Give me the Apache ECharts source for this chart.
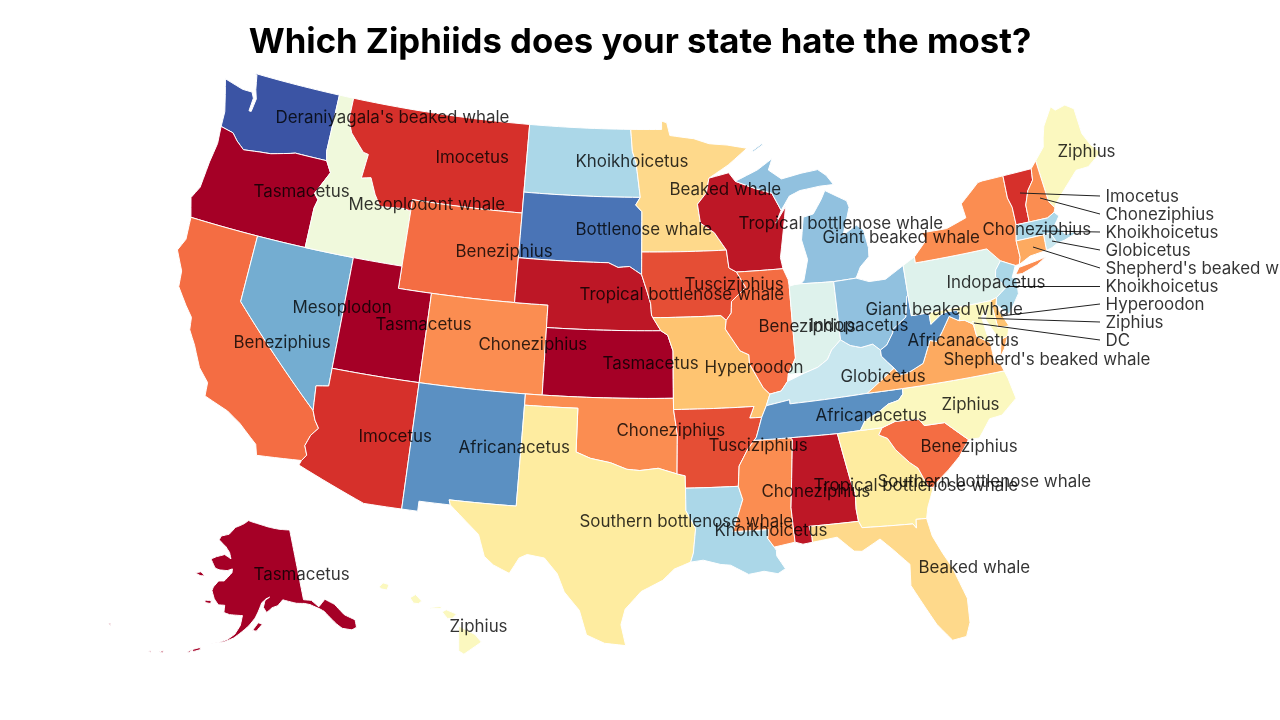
<!DOCTYPE html>
<html>
<head>
<meta charset="utf-8">
<script src="https://cdn.jsdelivr.net/npm/echarts@6/dist/echarts.min.js"></script>
<style>
  html, body { margin: 0; padding: 0; background: #fff; }
  #main { width: 1280px; height: 720px; }
</style>
</head>
<body>
<div id="main"></div>
<script>
// state -> species shown on the map
const stateCodes = ['WA','OR','CA','NV','ID','MT','WY','UT','AZ','CO','NM','ND','SD','NE','KS','OK','TX','MN','IA','MO','AR','LA','WI','IL','MS','MI','IN','KY','TN','AL','OH','GA','FL','SC','NC','VA','WV','PA','NY','ME','AK','HI'];
const stateSpecies = ["Deraniyagala's beaked whale",'Tasmacetus','Beneziphius','Mesoplodon','Mesoplodont whale','Imocetus','Beneziphius','Tasmacetus','Imocetus','Choneziphius','Africanacetus','Khoikhoicetus','Bottlenose whale','Tropical bottlenose whale','Tasmacetus','Choneziphius','Southern bottlenose whale','Beaked whale','Tusciziphius','Hyperoodon','Tusciziphius','Khoikhoicetus','Tropical bottlenose whale','Beneziphius','Choneziphius','Giant beaked whale','Indopacetus','Globicetus','Africanacetus','Tropical bottlenose whale','Giant beaked whale','Southern bottlenose whale','Beaked whale','Beneziphius','Ziphius',"Shepherd's beaked whale",'Africanacetus','Indopacetus','Choneziphius','Ziphius','Tasmacetus','Ziphius'];
const stateColors = ['#3b54a4','#a50026','#f46d43','#74add1','#f0f9dc','#d6302b','#f46d43','#a50026','#d6302b','#fb8d51','#5b90c2','#abd7e8','#4a74b6','#bd1726','#a50026','#fb8d51','#feeca0','#fed98b','#e54e35','#fec471','#e54e35','#abd7e8','#bd1726','#f46d43','#fb8d51','#91c1df','#def2ec','#c9e7ef','#5b90c2','#bd1726','#91c1df','#feeca0','#fed98b','#f46d43','#fbf8bf','#fdaa60','#5b90c2','#def2ec','#fb8d51','#fbf8bf','#a50026','#fbf8bf'];
const labelAnchors = [[275,117],[253,191],[233,342],[292,307],[348,204],[435,157],[455,251],[375,324],[358,436],[478,344],[458,447],[575,161],[575,229],[579,294],[602,363],[616,430],[579,521],[669,189],[684,284],[704,367],[708,445],[714,530],[738,223],[758,326],[761,491],[822,237],[809,325],[840,376],[815,415],[813,485],[865,309],[877,481],[918,567],[920,446],[941,404],[943,359],[907,340],[946,282],[982,229],[1057,151],[253,574],[449,626]];

// small north-eastern states labelled at the side
const calloutCodes = ['VT','NH','MA','RI','CT','NJ','DE','MD','DC'];
const calloutSpecies = ['Imocetus','Choneziphius','Khoikhoicetus','Globicetus',"Shepherd's beaked whale",'Khoikhoicetus','Hyperoodon','Ziphius','DC'];
const calloutColors = ['#d6302b','#fb8d51','#abd7e8','#c9e7ef','#fdaa60','#abd7e8','#fec471','#fbf8bf','#fbf8bf'];
const calloutStart = [[1020,193],[1040,198],[1042,231],[1052,241],[1033,247],[1007,286],[1001,316],[978,318],[974,323]];
const calloutEnd = [[1100,196],[1100,214],[1100,232],[1100,250],[1100,268],[1100,286],[1100,304],[1100,322],[1100,340]];

// state outlines, lon/lat
const outlines = {
  WA: [[[-124.7,48.38],[-124.4,47.7],[-124.1,46.95],[-124.05,46.27],[-123.2,46.15],[-122.8,45.85],[-122.25,45.55],[-121.2,45.65],[-120.5,45.7],[-119.3,45.93],[-118.98,46],[-116.9,45.99],[-117.04,46.4],[-117.03,49],[-123,49],[-122.75,48.95],[-122.55,48.3],[-122.35,47.9],[-122.45,47.3],[-122.6,47.3],[-122.55,47.9],[-122.75,48.15],[-123.4,48.15]]],
  OR: [[[-124.05,46.27],[-123.95,45.5],[-124.1,44.6],[-124.2,43.4],[-124.55,42.84],[-124.2,42],[-117.03,42],[-117.03,43.8],[-116.9,44.2],[-117.2,44.45],[-116.5,45.5],[-116.9,45.99],[-118.98,46],[-119.3,45.93],[-120.5,45.7],[-121.2,45.65],[-122.25,45.55],[-122.8,45.85],[-123.2,46.15]]],
  CA: [[[-124.2,42],[-124.1,41],[-124.4,40.44],[-123.8,39.6],[-123.7,38.9],[-123,38.2],[-122.5,37.75],[-122.4,37.2],[-121.9,36.6],[-121.3,35.7],[-120.65,35.15],[-120.6,34.55],[-119.2,34.15],[-118.4,33.75],[-117.3,33],[-117.13,32.53],[-114.72,32.72],[-114.5,33],[-114.7,33.4],[-114.5,33.9],[-114.15,34.27],[-114.43,34.6],[-114.63,35],[-120,39],[-120,42]]],
  NV: [[[-120,42],[-114.04,42],[-114.04,36.2],[-114.74,36.1],[-114.63,35],[-120,39]]],
  ID: [[[-117.03,49],[-116.05,49],[-116.05,48],[-115.7,47.45],[-114.7,46.7],[-114.35,46.65],[-114.5,45.55],[-113.9,45.65],[-113.45,44.95],[-113,44.45],[-111.5,44.55],[-111.05,44.48],[-111.05,42],[-117.03,42],[-117.03,43.8],[-116.9,44.2],[-117.2,44.45],[-116.5,45.5],[-116.9,45.99],[-117.04,46.4]]],
  MT: [[[-116.05,49],[-104.05,49],[-104.05,45],[-111.05,45],[-111.05,44.48],[-111.5,44.55],[-113,44.45],[-113.45,44.95],[-113.9,45.65],[-114.5,45.55],[-114.35,46.65],[-114.7,46.7],[-115.7,47.45],[-116.05,48]]],
  WY: [[[-111.05,45],[-104.05,45],[-104.05,41],[-111.05,41]]],
  UT: [[[-114.04,42],[-111.05,42],[-111.05,41],[-109.05,41],[-109.05,37],[-114.04,37]]],
  AZ: [[[-114.63,35],[-114.74,36.1],[-114.04,36.2],[-114.04,37],[-109.05,37],[-109.05,31.33],[-111.07,31.33],[-114.81,32.5],[-114.72,32.72],[-114.5,33],[-114.7,33.4],[-114.5,33.9],[-114.15,34.27],[-114.43,34.6]]],
  CO: [[[-109.05,41],[-102.05,41],[-102.05,37],[-109.05,37]]],
  NM: [[[-109.05,37],[-103,37],[-103.05,32],[-106.62,32],[-106.53,31.78],[-108.2,31.78],[-108.2,31.33],[-109.05,31.33]]],
  ND: [[[-104.05,49],[-97.23,49],[-97.1,48],[-96.85,47.5],[-96.56,45.94],[-104.05,45.94]]],
  SD: [[[-104.05,45.94],[-96.56,45.94],[-96.85,45.6],[-96.45,45.3],[-96.45,43.5],[-96.45,42.49],[-97.2,42.85],[-97.9,42.8],[-98.5,43],[-104.05,43]]],
  NE: [[[-104.05,43],[-98.5,43],[-97.9,42.8],[-97.2,42.85],[-96.45,42.49],[-96.1,41.7],[-95.9,41.2],[-95.85,40.7],[-95.3,40],[-102.05,40],[-102.05,41],[-104.05,41]]],
  KS: [[[-102.05,40],[-95.3,40],[-94.9,39.8],[-94.6,39.1],[-94.62,37],[-102.05,37]]],
  OK: [[[-103,37],[-94.62,37],[-94.62,36.5],[-94.43,35.4],[-94.48,33.64],[-95.5,33.9],[-96.5,33.8],[-97.2,33.85],[-98.1,34.13],[-99.2,34.3],[-100,34.56],[-100,36.5],[-103,36.5]]],
  TX: [[[-103,36.5],[-100,36.5],[-100,34.56],[-99.2,34.3],[-98.1,34.13],[-97.2,33.85],[-96.5,33.8],[-95.5,33.9],[-94.48,33.64],[-94.04,33.55],[-94.04,33],[-94.04,32],[-93.55,31.2],[-93.7,30.1],[-93.85,29.7],[-94.7,29.4],[-95.3,28.9],[-96.4,28.4],[-97.2,27.6],[-97.4,26.9],[-97.15,25.96],[-98.2,26.05],[-99.1,26.4],[-99.5,27.5],[-100.3,28.3],[-100.7,29.1],[-101.4,29.77],[-102.3,29.88],[-102.7,29.7],[-103.15,28.98],[-104,29.3],[-104.5,29.65],[-104.9,30.6],[-106,31.4],[-106.53,31.78],[-106.62,32],[-103.05,32]]],
  MN: [[[-97.23,49],[-95.15,49],[-95.15,49.38],[-94.8,49.3],[-94.6,48.72],[-93,48.55],[-92,48.3],[-90.8,48.2],[-89.5,48],[-90.8,47.3],[-92.1,46.75],[-92.3,46.1],[-92.9,45.6],[-92.75,44.75],[-91.9,44.3],[-91.2,43.5],[-96.45,43.5],[-96.45,45.3],[-96.85,45.6],[-96.56,45.94],[-96.85,47.5],[-97.1,48]]],
  IA: [[[-96.45,43.5],[-91.2,43.5],[-91.1,42.7],[-90.65,42.5],[-90.15,41.8],[-91.05,41.2],[-91.1,40.7],[-91.42,40.38],[-91.73,40.6],[-95.77,40.58],[-95.85,40.7],[-95.9,41.2],[-96.1,41.7],[-96.45,42.49]]],
  MO: [[[-95.77,40.58],[-91.73,40.6],[-91.42,40.38],[-91.5,40],[-90.7,39],[-90.2,38.8],[-90.2,38.4],[-89.5,37.3],[-89.15,37],[-89.4,36.5],[-89.7,36],[-90.37,36],[-90.1,36.5],[-94.62,36.5],[-94.62,37],[-94.6,39.1],[-94.9,39.8],[-95.3,40]]],
  AR: [[[-94.62,36.5],[-90.1,36.5],[-90.37,36],[-89.7,36],[-90.07,35.13],[-90.6,34.6],[-91.1,33.9],[-91.2,33],[-94.04,33],[-94.04,33.55],[-94.48,33.64],[-94.43,35.4]]],
  LA: [[[-94.04,33],[-91.2,33],[-91,32.4],[-91.6,31],[-89.75,31],[-89.8,30.6],[-89.5,30.2],[-89.4,30.05],[-89.4,29.8],[-89,29.2],[-89.4,29],[-90.1,29.15],[-90.9,29.05],[-91.8,29.5],[-92.3,29.55],[-93.2,29.77],[-93.85,29.7],[-93.7,30.1],[-93.55,31.2],[-94.04,32]]],
  WI: [[[-92.1,46.75],[-90.8,46.95],[-90.4,46.55],[-89.1,46.15],[-88.1,45.9],[-87.6,45.1],[-88,44.55],[-87.3,45.25],[-87.55,44.3],[-87.9,43],[-87.8,42.5],[-90.65,42.5],[-91.1,42.7],[-91.2,43.5],[-91.9,44.3],[-92.75,44.75],[-92.9,45.6],[-92.3,46.1]]],
  IL: [[[-90.65,42.5],[-87.8,42.5],[-87.55,42],[-87.52,41.7],[-87.53,39.35],[-87.53,38.5],[-88.03,37.8],[-88.1,37.5],[-88.5,37.1],[-89.15,37],[-89.5,37.3],[-90.2,38.4],[-90.2,38.8],[-90.7,39],[-91.5,40],[-91.42,40.38],[-91.1,40.7],[-91.05,41.2],[-90.15,41.8]]],
  MS: [[[-90.2,35],[-88.2,35],[-88.1,34.9],[-88.47,31.9],[-88.4,30.35],[-89.5,30.2],[-89.8,30.6],[-89.75,31],[-91.6,31],[-91,32.4],[-91.2,33],[-91.1,33.9],[-90.6,34.6]]],
  MI: [[[-90.4,46.55],[-89.1,46.15],[-88.1,45.9],[-87.6,45.1],[-87,45.7],[-86.3,45.9],[-85,46],[-84.1,46],[-84.5,46.45],[-85,46.75],[-86.1,46.67],[-87.4,46.5],[-88.2,46.95],[-87.9,47.45],[-88.9,47]],
       [[-86.8,41.76],[-84.82,41.7],[-83.45,41.73],[-83.1,42.2],[-82.5,42.6],[-82.45,43],[-82.6,43.8],[-83,44.07],[-83.9,43.7],[-83.3,44.9],[-83.4,45.2],[-84.7,45.78],[-85,45.4],[-85.6,44.8],[-86.25,44.7],[-86.5,43.7],[-86.25,42.8],[-86.6,41.9]],
       [[-89.2,47.85],[-88.5,48.15],[-88.45,48.1],[-89.1,47.82]]],
  IN: [[[-87.52,41.7],[-87.2,41.75],[-86.8,41.76],[-84.82,41.7],[-84.82,39.1],[-85.4,38.7],[-85.7,38.3],[-86.3,38],[-87.1,37.8],[-88.03,37.8],[-87.53,38.5],[-87.53,39.35]]],
  KY: [[[-89.15,37],[-88.5,37.1],[-88.1,37.5],[-87.1,37.8],[-86.3,38],[-85.7,38.3],[-85.4,38.7],[-84.82,39.1],[-84.3,38.8],[-83.7,38.65],[-83,38.73],[-82.6,38.42],[-82.6,38.15],[-82,37.55],[-81.97,37.54],[-83.68,36.6],[-88.07,36.5],[-88.07,36.68],[-89.4,36.5]]],
  TN: [[[-90.07,35.13],[-90.2,35],[-88.2,35],[-85.6,34.98],[-84.32,35],[-84,35.4],[-83.1,35.75],[-82.6,36],[-82,36.1],[-81.7,36.35],[-81.68,36.59],[-83.68,36.6],[-88.07,36.5],[-88.07,36.68],[-89.4,36.5],[-89.7,36]]],
  AL: [[[-88.2,35],[-85.6,34.98],[-85.18,32.87],[-85,32.3],[-85.05,31.55],[-85,31],[-87.6,31],[-87.5,30.5],[-87.5,30.28],[-88,30.23],[-88.4,30.35],[-88.47,31.9],[-88.1,34.9]]],
  OH: [[[-84.82,41.7],[-83.45,41.73],[-82.7,41.5],[-81.7,41.5],[-80.52,41.98],[-80.52,40.64],[-80.6,40.6],[-80.85,39.7],[-81.7,39.25],[-81.75,39.1],[-82.2,38.6],[-82.6,38.42],[-83,38.73],[-83.7,38.65],[-84.3,38.8],[-84.82,39.1]]],
  GA: [[[-85.6,34.98],[-84.32,35],[-83.11,35],[-83.35,34.7],[-82.9,34.5],[-82.55,33.95],[-81.9,33.3],[-81.5,33],[-81.1,32.1],[-80.85,32.03],[-81.3,31.2],[-81.45,30.72],[-82,30.75],[-82.05,30.36],[-82.2,30.57],[-84.86,30.7],[-85,31],[-85.05,31.55],[-85,32.3],[-85.18,32.87]]],
  FL: [[[-87.6,31],[-85,31],[-84.86,30.7],[-82.2,30.57],[-82.05,30.36],[-82,30.75],[-81.45,30.72],[-81.3,29.9],[-80.9,29.05],[-80.55,28.4],[-80.05,26.9],[-80.12,25.8],[-80.4,25.2],[-81.1,25.13],[-81.75,25.95],[-82.2,26.8],[-82.75,27.85],[-82.65,28.8],[-83.4,29.55],[-84,30.1],[-85,29.65],[-85.4,29.7],[-86.2,30.4],[-87.5,30.28],[-87.5,30.5]]],
  SC: [[[-83.11,35],[-82.35,35.2],[-81.05,35.15],[-80.8,34.82],[-79.67,34.8],[-78.55,33.87],[-79.2,33.2],[-79.9,32.7],[-80.7,32.2],[-80.85,32.03],[-81.1,32.1],[-81.5,33],[-81.9,33.3],[-82.55,33.95],[-82.9,34.5],[-83.35,34.7]]],
  NC: [[[-84.32,35],[-83.11,35],[-82.35,35.2],[-81.05,35.15],[-80.8,34.82],[-79.67,34.8],[-78.55,33.87],[-77.95,33.85],[-77.2,34.6],[-76.5,34.65],[-75.55,35.25],[-75.75,36.2],[-75.87,36.55],[-81.68,36.59],[-81.7,36.35],[-82,36.1],[-82.6,36],[-83.1,35.75],[-84,35.4]]],
  VA: [[[-83.68,36.6],[-81.68,36.59],[-75.87,36.55],[-76,36.9],[-76.3,37],[-76.3,37.9],[-77,38.3],[-77.05,38.85],[-77.5,39.1],[-77.83,39.13],[-78.35,39.4],[-78.9,38.8],[-79.3,38.4],[-79.7,38.5],[-80.3,37.55],[-81.2,37.25],[-81.7,37.2],[-81.97,37.54]],
       [[-75.95,37.15],[-75.65,37.95],[-75.25,38.03],[-75.6,37.5]]],
  WV: [[[-81.97,37.54],[-82,37.55],[-82.6,38.15],[-82.6,38.42],[-82.2,38.6],[-81.75,39.1],[-81.7,39.25],[-80.85,39.7],[-80.6,40.6],[-80.52,40.64],[-80.52,39.72],[-79.48,39.72],[-79.48,39.2],[-78.8,39.55],[-78.4,39.62],[-77.83,39.6],[-77.72,39.32],[-77.83,39.13],[-78.35,39.4],[-78.9,38.8],[-79.3,38.4],[-79.7,38.5],[-80.3,37.55],[-81.2,37.25],[-81.7,37.2]]],
  PA: [[[-80.52,41.98],[-79.76,42.27],[-79.76,42],[-75.35,42],[-75.1,41.75],[-74.7,41.35],[-75.1,41],[-75.2,40.7],[-74.72,40.15],[-75.4,39.8],[-75.79,39.72],[-80.52,39.72]]],
  NY: [[[-79.76,42.27],[-78.9,42.9],[-79.05,43.27],[-77.5,43.25],[-76.2,43.55],[-76.3,44.2],[-75,44.97],[-74.7,45],[-73.35,45.01],[-73.4,44],[-73.25,43.55],[-73.27,42.75],[-73.5,42.05],[-73.5,41.3],[-73.65,41],[-73.9,41],[-74.7,41.35],[-75.1,41.75],[-75.35,42],[-79.76,42]],
       [[-74,40.6],[-73.7,40.88],[-72.6,40.98],[-72,41.05],[-72.6,40.8],[-73.6,40.58]]],
  ME: [[[-71.1,45.3],[-70.4,45.8],[-70.25,46.2],[-70,46.7],[-69.23,47.46],[-69,47.25],[-68.3,47.35],[-67.8,47.07],[-67.78,45.9],[-67.45,45.3],[-67,44.85],[-68,44.4],[-68.8,44.4],[-69.8,43.75],[-70.6,43.2],[-70.7,43.05],[-70.98,43.4]]],
  VT: [[[-73.35,45.01],[-71.5,45.01],[-71.6,44.5],[-72.05,44.1],[-72.4,43.5],[-72.45,42.73],[-73.27,42.75],[-73.25,43.55],[-73.4,44]]],
  NH: [[[-71.5,45.01],[-71.1,45.3],[-70.98,43.4],[-70.7,43.05],[-70.82,42.87],[-71.3,42.7],[-72.45,42.73],[-72.4,43.5],[-72.05,44.1],[-71.6,44.5]]],
  MA: [[[-73.27,42.75],[-72.45,42.73],[-71.3,42.7],[-70.82,42.87],[-70.6,42.65],[-71,42.3],[-70.65,41.95],[-70.5,41.78],[-70,41.8],[-70.2,42.07],[-69.95,41.7],[-70.65,41.55],[-71.12,41.5],[-71.38,42.02],[-71.8,42.02],[-73.5,42.05]]],
  RI: [[[-71.8,42.02],[-71.38,42.02],[-71.12,41.5],[-71.5,41.37],[-71.86,41.32]]],
  CT: [[[-73.5,42.05],[-71.8,42.02],[-71.86,41.32],[-72.9,41.25],[-73.65,41],[-73.5,41.3]]],
  NJ: [[[-74.7,41.35],[-73.9,41],[-74.25,40.5],[-74,40.45],[-74.1,39.75],[-74.9,38.95],[-75.5,39.5],[-75.4,39.8],[-74.72,40.15],[-75.2,40.7],[-75.1,41]]],
  DE: [[[-75.79,39.72],[-75.4,39.8],[-75.55,39.45],[-75.05,38.45],[-75.7,38.46]]],
  MD: [[[-79.48,39.72],[-75.79,39.72],[-75.7,38.46],[-75.05,38.45],[-75.25,38.03],[-75.65,37.95],[-75.9,38.2],[-76.3,38.95],[-76.1,39.4],[-76.5,39.1],[-76.4,38.3],[-76.3,37.9],[-77,38.3],[-77.05,38.85],[-77.5,39.1],[-77.83,39.13],[-77.72,39.32],[-77.83,39.6],[-78.4,39.62],[-78.8,39.55],[-79.48,39.2]]],
  DC: [[[-77.12,38.93],[-77.04,39],[-76.91,38.89],[-77.04,38.79]]],
  AK: [[[-141,69.65],[-145,70],[-148.5,70.4],[-152,70.85],[-156.6,71.35],[-158.5,70.85],[-161.5,70.3],[-163.5,69.3],[-166.2,68.9],[-166.7,68.35],[-164,67.6],[-162.5,66.9],[-161.8,66.1],[-164,66.55],[-166.5,66.1],[-168.1,65.65],[-166.3,64.6],[-165,64.45],[-162.5,64.5],[-161,64.8],[-161,64.3],[-163,63.1],[-164.6,63],[-165.8,62.1],[-166,61.6],[-165,60.6],[-163.7,59.9],[-162,59.95],[-162,59],[-160.5,58.8],[-158.5,58.8],[-157.2,58.8],[-157.6,57.5],[-158.8,56.3],[-160.5,55.5],[-162.5,55],[-164.5,54.6],[-163,54.9],[-161,55.2],[-159,55.8],[-157.3,56.6],[-155.5,57.5],[-154,58.5],[-153.2,59.3],[-152.2,60.5],[-151,61],[-150,61.2],[-151.3,60.8],[-151.8,59.9],[-151,59.2],[-149.5,59.8],[-148,60],[-146.5,60.7],[-145,60.4],[-143,60],[-141,59.8],[-139.6,59.5],[-137.5,58.7],[-136.5,58.2],[-135.5,57.2],[-134.5,56.2],[-133.5,55.4],[-131.5,54.8],[-130.3,54.9],[-130,55.9],[-132,57],[-133.5,58.7],[-135.5,59.7],[-137.5,58.95],[-139,60],[-141,60.3]],
       [[-154.6,56.9],[-153.2,57.9],[-152.2,57.7],[-153.7,56.8]],
       [[-171.7,63.4],[-170.3,63.7],[-168.8,63.3],[-170.2,63.2]],
       [[-167.4,60.2],[-165.7,60.3],[-165.7,59.9],[-167.2,59.9]],
       [[-168,53.5],[-166.3,54],[-166.2,53.7],[-167.6,53.3]],
       [[-169,53],[-168,53.5],[-168.3,53.1]],
       [[-174.7,52.1],[-174,52.4],[-173.9,52.1]],
       [[-176.9,51.7],[-176.5,51.95],[-176.4,51.7]],
       [[-187.2,52.9],[-186.7,53],[-186.6,52.8]]],
  HI: [[[-159.78,22.05],[-159.6,22.23],[-159.3,22.15],[-159.4,21.9],[-159.7,21.95]],
       [[-158.27,21.55],[-158,21.7],[-157.7,21.4],[-157.85,21.28],[-158.1,21.3]],
       [[-157.3,21.1],[-156.75,21.15],[-156.75,21.05],[-157.25,21.05]],
       [[-156.7,20.9],[-156.5,21],[-156,20.8],[-156.2,20.6],[-156.45,20.6]],
       [[-155.9,20.25],[-155.1,19.85],[-154.8,19.5],[-155.65,18.95],[-155.9,19.1]]]
};

const rad = Math.PI / 180;

// albers conic, one for each of the three map parts
const conic = (p1, p2, lon0, k, x0, y0) => {
  const n = (Math.sin(p1 * rad) + Math.sin(p2 * rad)) / 2;
  const c = Math.cos(p1 * rad) ** 2 + 2 * n * Math.sin(p1 * rad);
  return {
    project: ([lon, lat]) => {
      const rho = Math.sqrt(c - 2 * n * Math.sin(lat * rad)) / n;
      const theta = n * (lon - lon0) * rad;
      return [x0 + k * rho * Math.sin(theta), y0 + k * rho * Math.cos(theta)];
    },
    unproject: ([x, y]) => {
      const dx = (x - x0) / k;
      const dy = (y - y0) / k;
      const rho = Math.hypot(dx, dy);
      const lon = lon0 + Math.atan2(dx, dy) / n / rad;
      const lat = Math.asin((c - (rho * n) ** 2) / (2 * n)) / rad;
      return [lon, lat];
    }
  };
};

const lower48 = conic(29.5, 45.5, -96, 1280, 649, -1281);
const alaska = conic(55, 65, -154, 436, 255, 355);
const hawaii = conic(8, 18, -157, 1250, 436, -4630);

const projection = {
  project: (p) => {
    if (p[1] > 51 && p[0] < -129) return alaska.project(p);
    if (p[1] < 23 && p[0] < -150) return hawaii.project(p);
    return lower48.project(p);
  },
  unproject: lower48.unproject
};

// long straight borders have to follow the curved parallels
const densify = (ring) => {
  const out = [];
  ring.forEach((a, i) => {
    const b = ring[(i + 1) % ring.length];
    const steps = Math.max(1, Math.ceil(Math.hypot(b[0] - a[0], b[1] - a[1]) / 0.5));
    for (let s = 0; s < steps; s++) {
      out.push([a[0] + (b[0] - a[0]) * s / steps, a[1] + (b[1] - a[1]) * s / steps]);
    }
  });
  out.push(out[0].slice());
  return out;
};

const features = Object.keys(outlines).map(code => ({
  type: 'Feature',
  properties: { name: code },
  geometry: { type: 'MultiPolygon', coordinates: outlines[code].map(ring => [densify(ring)]) }
}));
echarts.registerMap('usa', { type: 'FeatureCollection', features });

// the view box is the projected extent, so one projected unit stays one pixel
const projected = features.flatMap(f => f.geometry.coordinates.flat(1).flat(1).map(projection.project));
const xs = projected.map(p => p[0]);
const ys = projected.map(p => p[1]);
const minX = Math.min(...xs);
const minY = Math.min(...ys);

const chart = echarts.init(document.getElementById('main'));

const regions = stateCodes.concat(calloutCodes).map((name, i) => ({
  name,
  itemStyle: { areaColor: stateColors.concat(calloutColors)[i] }
}));

const labelData = stateSpecies.map((name, i) => ({ name, value: lower48.unproject(labelAnchors[i]) }));
const calloutData = calloutSpecies.map((name, i) => ({
  name,
  value: lower48.unproject([calloutEnd[i][0] + 5, calloutEnd[i][1]])
}));
const leaderData = calloutStart.map((start, i) => ({
  coords: [lower48.unproject(start), lower48.unproject(calloutEnd[i])]
}));

const textLabel = {
  show: true,
  position: 'right',
  distance: 0,
  offset: [0, 1],
  formatter: '{b}',
  fontFamily: 'Inter',
  fontSize: 16.9,
  color: '#000'
};

chart.setOption({
  animation: false,
  backgroundColor: '#fff',
  title: {
    text: 'Which Ziphiids does your state hate the most?',
    left: 'center',
    top: 20,
    textStyle: { fontFamily: 'Inter', fontSize: 34.7, fontWeight: 'bold', color: '#000' }
  },
  geo: {
    map: 'usa',
    projection,
    left: minX,
    top: minY,
    width: Math.max(...xs) - minX,
    height: Math.max(...ys) - minY,
    silent: true,
    itemStyle: { borderColor: '#fff', borderWidth: 1, areaColor: '#ddd' },
    regions
  },
  series: [
    {
      type: 'lines',
      coordinateSystem: 'geo',
      silent: true,
      z: 3,
      lineStyle: { color: '#222', width: 1, opacity: 1, curveness: 0 },
      data: leaderData
    },
    {
      type: 'scatter',
      coordinateSystem: 'geo',
      silent: true,
      z: 4,
      symbolSize: 1,
      itemStyle: { color: 'transparent' },
      label: textLabel,
      data: labelData.concat(calloutData)
    }
  ]
});
</script>
</body>
</html>
